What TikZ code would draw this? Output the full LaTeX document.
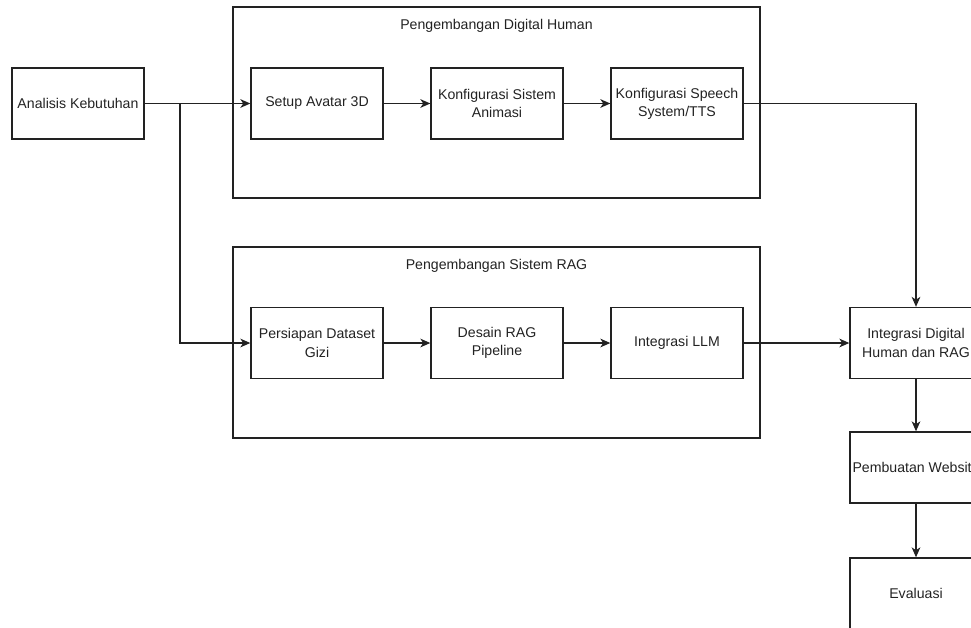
\documentclass[tikz,border=0pt]{standalone}
\usepackage{fontspec}
\setmainfont{Liberation Sans}
\usetikzlibrary{arrows.meta}
\definecolor{ink}{HTML}{222222}
\begin{document}
\begin{tikzpicture}[x=0.75pt,y=-0.75pt,
  every node/.style={font=\fontsize{10.6}{13.7}\selectfont, text=ink},
  box/.style={draw=ink, line width=1pt, minimum width=99pt, minimum height=53.25pt, inner sep=0pt, align=center},
  grp/.style={draw=ink, line width=1pt, minimum width=395.25pt, minimum height=143.25pt, inner sep=0pt},
  arr/.style={draw=ink, line width=1pt, -{Stealth[length=7.5pt,width=6.5pt,inset=2.2pt]}}]
\useasboundingbox (0,0) rectangle (971,628);
\clip (0,0) rectangle (971,628);
% groups
\node[grp] (g1) at (496.5,102.5) {};
\node[grp] (g2) at (496.5,342.5) {};
\node (t1) at (496.5,26) {Pengembangan Digital Human};
\node (t2) at (496.5,266) {Pengembangan Sistem RAG};
% boxes
\node[box] (ana) at (78,103.5) {Analisis Kebutuhan};
\node[box] (setup) at (317,103.5) {Setup Avatar 3D};
\node[box] (anim) at (497,103.5) {Konfigurasi Sistem\\Animasi};
\node[box] (speech) at (677,103.5) {Konfigurasi Speech\\System/TTS};
\node[box] (pers) at (317,343) {Persiapan Dataset\\Gizi};
\node[box] (desain) at (497,343) {Desain RAG\\Pipeline};
\node[box] (llm) at (677,343) {Integrasi LLM};
\node[box] (integ) at (916,343) {Integrasi Digital\\Human dan RAG};
\node[box] (web) at (916,467.5) {Pembuatan Website};
\node[box] (eval) at (916,593.5) {Evaluasi};
\coordinate (br) at (180,103.5);
% connectors
\draw[arr] (ana) -- (setup);
\draw[arr] (ana.east) -- (br) |- (pers.west);
\draw[arr] (setup) -- (anim);
\draw[arr] (anim) -- (speech);
\draw[arr] (speech.east) -| (integ.north);
\draw[arr] (pers) -- (desain);
\draw[arr] (desain) -- (llm);
\draw[arr] (llm) -- (integ);
\draw[arr] (integ) -- (web);
\draw[arr] (web) -- (eval);
\end{tikzpicture}
\end{document}
